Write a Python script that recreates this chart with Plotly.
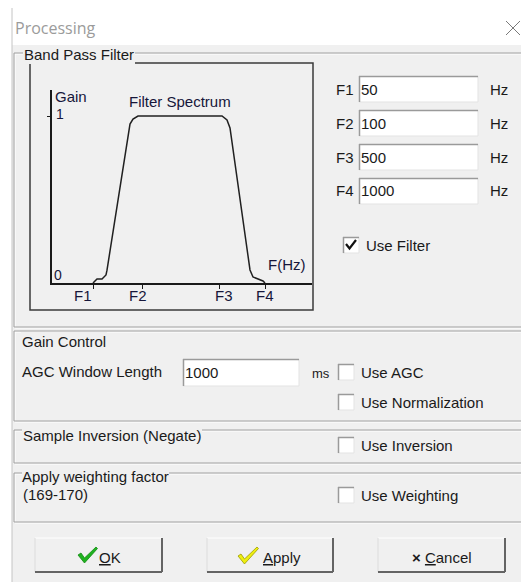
import plotly.graph_objects as go

W, H = 529, 582
OFF = 8  # the page body keeps an 8px margin round the figure
FW, FH = W - OFF, H - OFF

# schematic filter spectrum: position along the F axis (drawing units) and gain
curve_x = [41, 45, 50, 54, 55, 78, 81, 86, 170, 175, 178, 198, 201, 206, 211, 213]
curve_gain = [0, 0.024, 0.024, 0.048, 0.077, 0.952, 0.982, 1.0,
              1.0, 0.976, 0.928, 0.078, 0.036, 0.024, 0.012, 0]
corner_labels = ["F1", "F2", "F3", "F4"]
corner_pos = [41, 90, 167, 213]
corner_label_pos = [31, 86, 172, 213]
corner_hz = ["50", "100", "500", "1000"]
agc_window_ms = "1000"

FONT = "Liberation Sans, Arial, sans-serif"
PLOT_INK = "#16163a"
UI = 15

shapes = []
annotations = []


def X(p):
    return (p - OFF) / FW


def Y(p):
    return 1 - (p - OFF) / FH


def rect(x0, y0, x1, y1, fill=None, color=None, width=1):
    shapes.append(dict(
        type="rect", xref="paper", yref="paper",
        x0=X(x0), x1=X(x1), y0=Y(y1), y1=Y(y0),
        fillcolor=fill or "rgba(0,0,0,0)",
        line=dict(color=color or "rgba(0,0,0,0)", width=width if color else 0),
        layer="below",
    ))


def seg(x0, y0, x1, y1, color, width=1):
    shapes.append(dict(
        type="line", xref="paper", yref="paper",
        x0=X(x0), y0=Y(y0), x1=X(x1), y1=Y(y1),
        line=dict(color=color, width=width), layer="below",
    ))


def poly(points, fill=None, color="#000", width=1, closed=True):
    d = "M " + " L ".join(f"{X(a):.5f},{Y(b):.5f}" for a, b in points)
    if closed:
        d += " Z"
    shapes.append(dict(
        type="path", xref="paper", yref="paper", path=d,
        fillcolor=fill or "rgba(0,0,0,0)", line=dict(color=color, width=width),
        layer="above",
    ))


def text(x, y, s, size=UI, color="#1a1a1a", anchor="left", font=FONT, bg=None, pad=0):
    annotations.append(dict(
        x=X(x), y=Y(y), xref="paper", yref="paper", text=s, showarrow=False,
        xanchor=anchor, yanchor="middle",
        font=dict(family=font, size=size, color=color),
        bgcolor=bg, borderpad=pad, borderwidth=0,
    ))


def group(y0, y1):
    rect(15, y0 + 1, 560, y1 + 1, color="#ffffff")
    rect(14, y0, 560, y1, color="#a0a0a0")


def sunken(x0, y0, x1, y1):
    rect(x0, y0, x1, y1, fill="#ffffff")
    seg(x0, y1, x1, y1, "#e3e3e3", 1)
    seg(x1, y0, x1, y1, "#e3e3e3", 1)
    seg(x0, y0 + 0.5, x1, y0 + 0.5, "#9a9a9a", 1.5)
    seg(x0 + 0.5, y0, x0 + 0.5, y1, "#9a9a9a", 1.5)


def button(x0, y0, x1, y1):
    rect(x0, y0, x1, y1, fill="#f0f0f0")
    seg(x0, y0, x1, y0, "#ffffff", 1)
    seg(x0, y0, x0, y1, "#dcdcdc", 1)
    seg(x0, y1, x1, y1, "#646464", 2)
    seg(x1, y0, x1, y1, "#646464", 2)


# window chrome
rect(12, 7, 560, 45, fill="#ffffff")
rect(12, 45, 560, 600, fill="#f0f0f0")
seg(12, 7, 560, 7, "#c4c4c4", 1)
seg(12, 7, 12, 600, "#c4c4c4", 1)
text(15, 28, "Processing", size=16, color="#9b9b9b", font="Open Sans, Noto Sans, sans-serif")
seg(506, 21, 520, 35, "#7a7a7a", 1)
seg(506, 35, 520, 21, "#7a7a7a", 1)

# Band Pass Filter group
group(53, 327)
text(23, 54, "Band Pass Filter", bg="#f0f0f0", pad=1)
rect(30, 63, 313, 310, color="#3a3a3a", width=1.5)
text(55, 97, "Gain", size=15, color=PLOT_INK)
text(56, 114, "1", size=14, color=PLOT_INK)
text(54, 275, "0", size=14, color=PLOT_INK)
text(180, 102, "Filter Spectrum", size=15, color=PLOT_INK, anchor="center")
text(268, 264, "F(Hz)", size=15, color=PLOT_INK)

for i, (lab, val) in enumerate(zip(corner_labels, corner_hz)):
    cy = 89 + 34 * i
    text(336, cy, lab)
    sunken(359, cy - 13, 478, cy + 13)
    text(361, cy, val)
    text(490, cy, "Hz")

sunken(343, 237, 359, 253)
poly([(346, 244), (349.5, 248.5), (356, 240)], color="#111111", width=2.2, closed=False)
text(366, 245, "Use Filter")

# Gain Control group
group(331, 421)
text(21, 341, "Gain Control", bg="#f0f0f0", pad=1)
text(22, 371, "AGC Window Length")
sunken(183, 359, 299, 386)
text(185, 372, agc_window_ms)
text(312, 373, "ms", size=13)
sunken(338, 364, 354, 380)
text(361, 372, "Use AGC")
sunken(338, 394, 354, 410)
text(361, 402, "Use Normalization")

# Sample Inversion group
group(430, 463)
text(22, 435, "Sample Inversion (Negate)", bg="#f0f0f0", pad=1)
sunken(338, 437, 354, 453)
text(361, 445, "Use Inversion")

# Weighting group
group(473, 522)
text(22, 477, "Apply weighting factor", bg="#f0f0f0", pad=0)
text(23, 494, "(169-170)")
sunken(338, 487, 354, 503)
text(361, 495, "Use Weighting")

# buttons
button(35, 538, 162, 572)
poly([(78, 555), (81, 553), (84.5, 558), (96, 547), (97.5, 548.5), (84.5, 563)],
     fill="#1fb21f", color="#138a13", width=0.8)
text(99, 557, "<u>O</u>K")
button(207, 538, 333, 572)
poly([(238, 556), (241, 554), (244.5, 559), (257, 547), (258.5, 548.5), (244.5, 564)],
     fill="#eeee10", color="#9c9c00", width=0.8)
text(263, 557, "<u>A</u>pply")
button(378, 538, 505, 572)
text(442, 557, "<b>\u00d7</b> <u>C</u>ancel", anchor="center")

# F-axis labels under the spectrum ticks
for lab, pos in zip(corner_labels, corner_label_pos):
    annotations.append(dict(
        x=pos, y=0, xref="x", yref="y", text=lab, showarrow=False,
        xanchor="center", yanchor="top", yshift=-4,
        font=dict(family=FONT, size=15, color=PLOT_INK),
        borderpad=0, borderwidth=0,
    ))

fig = go.Figure()
fig.add_trace(go.Scatter(
    x=curve_x, y=curve_gain, mode="lines",
    line=dict(color="#202020", width=1.5),
    hoverinfo="skip", cliponaxis=False,
))

fig.update_layout(
    width=FW, height=FH,
    margin=dict(l=0, r=0, t=0, b=0),
    paper_bgcolor="#ffffff",
    plot_bgcolor="rgba(0,0,0,0)",
    showlegend=False,
    shapes=shapes,
    annotations=annotations,
    xaxis=dict(
        domain=[X(52), X(312)], range=[0, 260],
        showline=True, linecolor="#1a1a1a", linewidth=1.5,
        ticks="outside", ticklen=4, tickcolor="#1a1a1a", tickwidth=1.2,
        tickvals=corner_pos, showticklabels=False,
        showgrid=False, zeroline=False, fixedrange=True,
    ),
    yaxis=dict(
        domain=[Y(283), Y(90)], range=[0, 193 / 167],
        showline=True, linecolor="#1a1a1a", linewidth=1.5,
        ticks="outside", ticklen=3, tickcolor="#1a1a1a", tickwidth=1.2,
        tickvals=[1], showticklabels=False,
        showgrid=False, zeroline=False, fixedrange=True,
    ),
)

fig.write_html("out.html")
